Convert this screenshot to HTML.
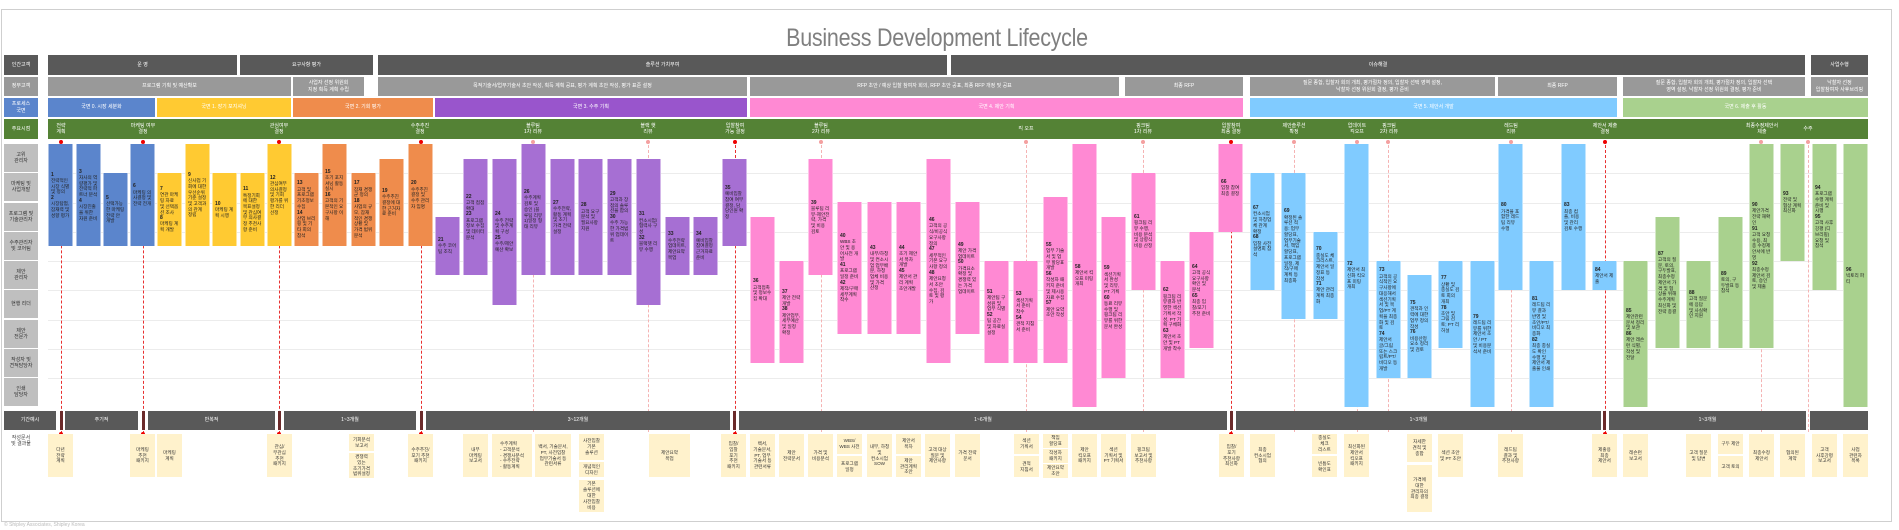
<!DOCTYPE html>
<html><head><meta charset="utf-8">
<style>
*{margin:0;padding:0;box-sizing:border-box}
body{width:1899px;height:530px;background:#fff;position:relative;overflow:hidden;font-family:"Liberation Sans","Noto Sans CJK KR",sans-serif}
div{position:absolute}
.frame{left:1px;top:9px;width:1891px;height:513px;border:1px solid #cfcfcf}
.title{left:700px;top:24px;width:474px;text-align:center;font-size:25px;color:#7f7f7f;transform:scaleX(0.86);letter-spacing:-0.3px}
.lab{left:4px;width:34px;font-size:5px;display:flex;align-items:center;justify-content:center;text-align:center;line-height:1.25}
.ll{background:#bfbfbf;color:#333;height:28px}
.seg{font-size:5px;color:#fff;display:flex;align-items:center;justify-content:center;text-align:center;line-height:1.3}
.dg{background:#595959}.g9{background:#999}
.grid{left:48px;width:1820px;height:1px;background:#ececec}
.ml{width:1px;top:140px;height:292px;border-left:1px dashed #f5b3b3}
.md{width:1px;top:140px;height:294px;border-left:1px dashed #e83030}
.dot{width:4px;height:4px;border-radius:2px;top:140px;background:#f4a0a0}
.dotr{background:#e00}
.b{width:25px;font-size:4.6px;color:#222;padding:3px 2px;line-height:1.25;display:flex;flex-direction:column;justify-content:center;border-left:1px solid rgba(255,255,255,.5);border-right:1px solid rgba(255,255,255,.5)}
.b b{font-size:5px}
.bl{background:#5b85cc}.ye{background:#ffca32}.or{background:#ef8c4c}.pu{background:#a66fd3}.pk{background:#ff89d3}.lb{background:#80cbff}.gr{background:#a9d18e}
.d{background:#fff2cc;font-size:4.6px;color:#333;display:flex;align-items:center;justify-content:center;text-align:center;line-height:1.3;width:25px}
.sep{top:411px;width:3px;height:19px;background:#6b2a2a}
</style></head><body>
<div class="frame"></div>
<div class="title">Business Development Lifecycle</div>

<!-- left labels -->
<div class="lab dg" style="top:55px;height:20px;color:#fff">인간고객</div>
<div class="lab g9" style="top:77px;height:19px;color:#fff">정부고객</div>
<div class="lab" style="top:98px;height:19px;background:#5b85cc;color:#fff">프로세스<br>국면</div>
<div class="lab" style="top:119px;height:20px;background:#548235;color:#fff">주요시점</div>
<div class="lab ll" style="top:144px">고위<br>관리자</div>
<div class="lab ll" style="top:173px">마케팅 및<br>사업개발</div>
<div class="lab ll" style="top:203px">프로그램 및<br>기술관리자</div>
<div class="lab ll" style="top:232px">수주관리자<br>및 코어팀</div>
<div class="lab ll" style="top:261px">제안<br>관리자</div>
<div class="lab ll" style="top:290px">현행 리더</div>
<div class="lab ll" style="top:320px">제안<br>전문가</div>
<div class="lab ll" style="top:349px">작성자 및<br>견적담당자</div>
<div class="lab ll" style="top:378px">인쇄<br>담당자</div>
<div class="lab dg" style="top:411px;height:19px;width:52px;color:#fff">기간예시</div>
<div class="lab" style="top:434px;height:14px;color:#444">작성문서<br>및 결과물</div>

<!-- row 1 -->
<div class="seg dg" style="left:48px;top:55px;width:189px;height:20px">운 영</div>
<div class="seg dg" style="left:240px;top:55px;width:133px;height:20px">요구사항 평가</div>
<div class="seg dg" style="left:378px;top:55px;width:569px;height:20px">솔루션 가치부여</div>
<div class="seg dg" style="left:951px;top:55px;width:854px;height:20px">이슈해결</div>
<div class="seg dg" style="left:1811px;top:55px;width:57px;height:20px">사업수행</div>
<!-- row 2 -->
<div class="seg g9" style="left:48px;top:77px;width:243px;height:19px">프로그램 기획 및 예산확보</div>
<div class="seg g9" style="left:293px;top:77px;width:71px;height:19px">사업자 선정 위원회<br>지정 획득 계획 수립</div>
<div class="seg g9" style="left:378px;top:77px;width:369px;height:19px">목적기술서/업무기술서 초안 작성, 획득 계획 공표, 평가 계획 초안 작성, 평가 표준 설정</div>
<div class="seg g9" style="left:750px;top:77px;width:369px;height:19px">RFP 초안 / 예상 입찰 참여자 회의, RFP 초안 공표, 최종 RFP 개정 및 공표</div>
<div class="seg g9" style="left:1125px;top:77px;width:118px;height:19px">최종 RFP</div>
<div class="seg g9" style="left:1250px;top:77px;width:245px;height:19px">질문 종합, 입찰자 회의 개최, 평가절차 정의, 입찰자 선택 영역 설정,<br>낙찰자 선정 위원회 결정, 평가 준비</div>
<div class="seg g9" style="left:1498px;top:77px;width:119px;height:19px">최종 RFP</div>
<div class="seg g9" style="left:1623px;top:77px;width:182px;height:19px">질문 종합, 입찰자 회의 개최, 평가절차 정의, 입찰자 선택<br>영역 설정, 낙찰자 선정 위원회 결정, 평가 준비</div>
<div class="seg g9" style="left:1811px;top:77px;width:57px;height:19px">낙찰자 선정<br>입찰참여자 사후브리핑</div>
<!-- row 3 -->
<div class="seg bl" style="left:48px;top:98px;width:107px;height:19px">국면 0. 시장 세분화</div>
<div class="seg ye" style="left:157px;top:98px;width:134px;height:19px">국면 1. 장기 포지셔닝</div>
<div class="seg or" style="left:293px;top:98px;width:140px;height:19px">국면 2. 기회 평가</div>
<div class="seg" style="left:435px;top:98px;width:312px;height:19px;background:#9955cc">국면 3. 수주 기획</div>
<div class="seg pk" style="left:750px;top:98px;width:493px;height:19px">국면 4. 제안 기획</div>
<div class="seg lb" style="left:1250px;top:98px;width:367px;height:19px">국면 5. 제안서 개발</div>
<div class="seg gr" style="left:1623px;top:98px;width:245px;height:19px">국면 6. 제출 후 활동</div>
<!-- row 4 -->
<div class="seg" style="left:48px;top:119px;width:1820px;height:20px;background:#548235"></div>
<div class="seg" style="left:46px;top:119px;width:30px;height:20px">전략<br>계획</div>
<div class="seg" style="left:123px;top:119px;width:40px;height:20px">마케팅 여부<br>결정</div>
<div class="seg" style="left:259px;top:119px;width:40px;height:20px">관심여부<br>결정</div>
<div class="seg" style="left:400px;top:119px;width:40px;height:20px">수주추진<br>결정</div>
<div class="seg" style="left:513px;top:119px;width:40px;height:20px">블루팀<br>1차 리뷰</div>
<div class="seg" style="left:628px;top:119px;width:40px;height:20px">블랙 햇<br>리뷰</div>
<div class="seg" style="left:715px;top:119px;width:40px;height:20px">입찰참여<br>가능 결정</div>
<div class="seg" style="left:801px;top:119px;width:40px;height:20px">블루팀<br>2차 리뷰</div>
<div class="seg" style="left:1006px;top:119px;width:40px;height:20px">킥 오프</div>
<div class="seg" style="left:1123px;top:119px;width:40px;height:20px">핑크팀<br>1차 리뷰</div>
<div class="seg" style="left:1211px;top:119px;width:40px;height:20px">입찰참여<br>최종 결정</div>
<div class="seg" style="left:1274px;top:119px;width:40px;height:20px">제안솔루션<br>확정</div>
<div class="seg" style="left:1340px;top:119px;width:34px;height:20px">업데이트<br>킥오프</div>
<div class="seg" style="left:1374px;top:119px;width:30px;height:20px">핑크팀<br>2차 리뷰</div>
<div class="seg" style="left:1491px;top:119px;width:40px;height:20px">레드팀<br>리뷰</div>
<div class="seg" style="left:1580px;top:119px;width:50px;height:20px">제안서 제출<br>결정</div>
<div class="seg" style="left:1732px;top:119px;width:60px;height:20px">최종수정제안서<br>제출</div>
<div class="seg" style="left:1793px;top:119px;width:30px;height:20px">수주</div>

<!-- grid -->
<div class="grid" style="top:173px"></div><div class="grid" style="top:203px"></div><div class="grid" style="top:232px"></div><div class="grid" style="top:261px"></div><div class="grid" style="top:290px"></div><div class="grid" style="top:320px"></div><div class="grid" style="top:349px"></div><div class="grid" style="top:378px"></div>

<!-- milestone lines -->
<div class="md" style="left:61px"></div><div class="md" style="left:143px"></div><div class="md" style="left:279px"></div><div class="md" style="left:421px"></div><div class="md" style="left:735px"></div><div class="md" style="left:1231px"></div><div class="md" style="left:1605px"></div>
<div class="ml" style="left:533px"></div><div class="ml" style="left:648px"></div><div class="ml" style="left:821px"></div><div class="ml" style="left:1026px"></div><div class="ml" style="left:1143px"></div><div class="ml" style="left:1294px"></div><div class="ml" style="left:1357px"></div><div class="ml" style="left:1388px"></div><div class="ml" style="left:1511px"></div><div class="ml" style="left:1761px"></div><div class="ml" style="left:1808px"></div>
<div class="dot dotr" style="left:59px"></div><div class="dot dotr" style="left:141px"></div><div class="dot dotr" style="left:277px"></div><div class="dot dotr" style="left:419px"></div><div class="dot dotr" style="left:733px"></div><div class="dot dotr" style="left:1229px"></div><div class="dot dotr" style="left:1603px"></div>
<div class="dot" style="left:531px"></div><div class="dot" style="left:646px"></div><div class="dot" style="left:819px"></div><div class="dot" style="left:1024px"></div><div class="dot" style="left:1141px"></div><div class="dot" style="left:1292px"></div><div class="dot" style="left:1355px"></div><div class="dot" style="left:1386px"></div><div class="dot" style="left:1509px"></div><div class="dot" style="left:1759px"></div><div class="dot" style="left:1806px"></div>

<!-- bars -->
<div class="b bl" style="left:48px;top:144px;height:102px"><b>1</b>전략적인 시장 식별 및 정의<br><b>2</b>시장탐험, 잠재력 및 성향 평가</div>
<div class="b bl" style="left:76px;top:144px;height:102px"><b>3</b>자사의 역량평가 및 전략적 파트너 분석<br><b>4</b>시장진출을 위한 자원 준비</div>
<div class="b bl" style="left:103px;top:173px;height:73px"><b>5</b>선택가능한 마케팅 전략 안 개발</div>
<div class="b bl" style="left:130px;top:144px;height:102px"><b>6</b>마케팅 의사결정 및 전략 전개</div>
<div class="b ye" style="left:157px;top:173px;height:73px"><b>7</b>연관 마케팅 자료 및 선택옵션 조사<br><b>8</b>마케팅 계획 개발</div>
<div class="b ye" style="left:185px;top:144px;height:102px"><b>9</b>신사업 기회에 대한 우선순위 기준 설정 및 고객과의 관계 정립</div>
<div class="b ye" style="left:212px;top:173px;height:73px"><b>10</b>마케팅 계획 시행</div>
<div class="b ye" style="left:240px;top:173px;height:73px"><b>11</b>특정기회에 대한 목표설정 및 관심여부 의사결정 추천사항 준비</div>
<div class="b ye" style="left:267px;top:144px;height:102px"><b>12</b>관심여부 의사결정 및 기회 평가를 위한 리더 선정</div>
<div class="b or" style="left:294px;top:173px;height:73px"><b>13</b>고객 및 프로그램 기초정보 수집<br><b>14</b>산업 브리핑 및 기타 회의 참석</div>
<div class="b or" style="left:322px;top:144px;height:102px"><b>15</b>초기 포지셔닝 활동 실시<br><b>16</b>고객의 기본적인 요구사항 이해</div>
<div class="b or" style="left:351px;top:173px;height:73px"><b>17</b>잠재 경쟁군 정의<br><b>18</b>사업의 규모, 잠재적인 경쟁상황 및 가격 범위 분석</div>
<div class="b or" style="left:379px;top:159px;height:87px"><b>19</b>수주추진 결정에 대한 근거자료 준비</div>
<div class="b or" style="left:408px;top:144px;height:102px"><b>20</b>수주추진 결정 및 수주 관리자 임명</div>
<div class="b pu" style="left:435px;top:217px;height:58px"><b>21</b>수주 코어팀 조직</div>
<div class="b pu" style="left:463px;top:159px;height:116px"><b>22</b>고객 접점 확대<br><b>23</b>프로그램 정보 수집 및 데이터 분석</div>
<div class="b pu" style="left:492px;top:159px;height:146px"><b>24</b>수주 전략 및 수주계획 구성<br><b>25</b>수주/제안 예산 확보</div>
<div class="b pu" style="left:521px;top:144px;height:131px"><b>26</b>수주계획 검토 및 승인 (블루팀 리뷰1)일정 형태 리뷰</div>
<div class="b pu" style="left:550px;top:159px;height:116px"><b>27</b>수주전략, 활동 계획 및 초기 가격 전략 설정</div>
<div class="b pu" style="left:578px;top:159px;height:116px"><b>28</b>고객 요구 분석 및 필요사항 지원</div>
<div class="b pu" style="left:607px;top:159px;height:116px"><b>29</b>고객과 장점의 솔루션을 합의<br><b>30</b>수주 가능한 가격범위 업데이트</div>
<div class="b pu" style="left:636px;top:159px;height:146px"><b>31</b>컨소시엄/협력사 구성<br><b>32</b>블랙햇 리뷰 수행</div>
<div class="b pu" style="left:665px;top:217px;height:58px"><b>33</b>수주전략 업데이트, 제안요약 목업</div>
<div class="b pu" style="left:693px;top:217px;height:58px"><b>34</b>예비입찰 참여결정 근거자료 준비</div>
<div class="b pu" style="left:722px;top:159px;height:87px"><b>35</b>예비입찰참여 여부 결정, 담당인원 확정</div>
<div class="b pk" style="left:750px;top:217px;height:146px"><b>36</b>고객접촉 및 정보수집 확대</div>
<div class="b pk" style="left:779px;top:261px;height:102px"><b>37</b>제안 전략 개발<br><b>38</b>제안업무, 세부예산 및 일정 확정</div>
<div class="b pk" style="left:808px;top:159px;height:116px"><b>39</b>블루팀 리뷰-제안전략, 가격 및 비용 검토</div>
<div class="b pk" style="left:837px;top:202px;height:132px"><b>40</b>WBS 초안 및 용어사전 개발<br><b>41</b>프로그램 일정 준비<br><b>42</b>제작/구매 세부계획 착수</div>
<div class="b pk" style="left:867px;top:202px;height:132px"><b>43</b>내부/하청 및 컨소시엄 업무배분, 하청업체 비용 및 가격 산정</div>
<div class="b pk" style="left:896px;top:202px;height:132px"><b>44</b>초기 제안서 목차 개발<br><b>45</b>제안서 관리 계획 초안개발</div>
<div class="b pk" style="left:926px;top:159px;height:204px"><b>46</b>고객의 공식/비공식 요구사항 정의<br><b>47</b>세부적인 기본 요구사항 정의<br><b>48</b>제안요청서 초안 수집, 검토 및 평가</div>
<div class="b pk" style="left:955px;top:202px;height:132px"><b>49</b>제안 가격 업데이트<br><b>50</b>가격요소 확정 및 경쟁력 있는 가격 업데이트</div>
<div class="b pk" style="left:984px;top:261px;height:102px"><b>51</b>제안팀 구성원 및 업무 식별<br><b>52</b>팀 공간 및 자료실 설정</div>
<div class="b pk" style="left:1013px;top:261px;height:102px"><b>53</b>섹션기획서 준비 착수<br><b>54</b>견적 지침서 준비</div>
<div class="b pk" style="left:1043px;top:197px;height:166px"><b>55</b>업무 기술서 및 업무 할당표 개발<br><b>56</b>작성자 패키지 준비 및 제시용 자료 수집<br><b>57</b>제안 요약 초안 작성</div>
<div class="b pk" style="left:1072px;top:144px;height:263px"><b>58</b>제안서 킥오프 미팅 개최</div>
<div class="b pk" style="left:1101px;top:217px;height:161px"><b>59</b>섹션기획서 완성 및 리뷰, PT 기획<br><b>60</b>동료 리뷰 수행 및 핑크팀 리뷰를 위한 문서 완성</div>
<div class="b pk" style="left:1131px;top:173px;height:117px"><b>61</b>핑크팀 리뷰 수행, 비용 분석 및 상향식 비용 산정</div>
<div class="b pk" style="left:1160px;top:261px;height:117px"><b>62</b>핑크팀 리뷰결과 반영한 섹션 기획서 작성, PT 기획 구체화<br><b>63</b>제안서 초안 및 PT 개발 착수</div>
<div class="b pk" style="left:1189px;top:232px;height:116px"><b>64</b>고객 공식 요구사항 확인 및 분석<br><b>65</b>최종 입찰/포기 추천 준비</div>
<div class="b pk" style="left:1218px;top:144px;height:88px"><b>66</b>입찰 참여 최종 결정</div>
<div class="b lb" style="left:1250px;top:173px;height:117px"><b>67</b>컨소시엄 및 하청업체 관계 확정<br><b>68</b>입찰 사전 설명회 참석</div>
<div class="b lb" style="left:1281px;top:173px;height:146px"><b>69</b>확정된 솔루션 적용: 업무할당표, 업무기술서, 책임할당표, 프로그램 일정, 제작/구매 계획 등 최종화</div>
<div class="b lb" style="left:1313px;top:232px;height:87px"><b>70</b>충실도 체크리스트, 제안서 일정표 등 작성<br><b>71</b>제안 관리계획 최종화</div>
<div class="b lb" style="left:1344px;top:144px;height:263px"><b>72</b>제안서 최신화 킥오프 미팅 개최</div>
<div class="b lb" style="left:1376px;top:261px;height:117px"><b>73</b>고객의 공식적인 요구사항에 대응해서 섹션기획서 및 목업/PT 계획을 최종화 및 검토<br><b>74</b>제안서 글/그림 또는 스크립트/PT/비디오 등 개발</div>
<div class="b lb" style="left:1407px;top:275px;height:103px"><b>75</b>견적과 인력에 대한 업무 정의 작성<br><b>76</b>비용산정 요소 정리 및 검토</div>
<div class="b lb" style="left:1438px;top:261px;height:87px"><b>77</b>상황 및 충실도 검토 회의 개최<br><b>78</b>초안 및 그림 검토; PT 리허설</div>
<div class="b lb" style="left:1470px;top:261px;height:146px"><b>79</b>레드팀 리뷰를 위한 제안서 초안 / PT 및 비용분석서 준비</div>
<div class="b lb" style="left:1498px;top:144px;height:146px"><b>80</b>가격을 포함한 레드팀 리뷰 수행</div>
<div class="b lb" style="left:1529px;top:261px;height:146px"><b>81</b>레드팀 리뷰 결과 반영 및 초안/PT/비디오 최종화<br><b>82</b>최종 충실도 확인 수행 및 제안서 제출물 인쇄</div>
<div class="b lb" style="left:1561px;top:144px;height:146px"><b>83</b>최종 컴플, 비용 및 관리 검토 수행</div>
<div class="b lb" style="left:1592px;top:261px;height:29px"><b>84</b>제안서 제출</div>
<div class="b gr" style="left:1623px;top:261px;height:146px"><b>85</b>제안관련 문서 정리 및 보관<br><b>86</b>제안 레슨런 식별, 작성 및 전달</div>
<div class="b gr" style="left:1655px;top:217px;height:131px"><b>87</b>고객의 질문, 토의, 구두발표, 최종수정제안서 가격 및 협상을 위해 수주계획 최신화 및 전략 종결</div>
<div class="b gr" style="left:1686px;top:261px;height:87px"><b>88</b>고객 질문에 응답 및 사실확인 지원</div>
<div class="b gr" style="left:1718px;top:217px;height:131px"><b>89</b>토의, 구두발표 등 참석</div>
<div class="b gr" style="left:1749px;top:144px;height:204px"><b>90</b>제안가격 전략 재확인<br><b>91</b>고객 요청 수용, 최종 수정제안서에 반영<br><b>92</b>최종수정제안서 검토, 승인 및 제출</div>
<div class="b gr" style="left:1780px;top:144px;height:117px"><b>93</b>전략 및 협상 계획 최신화</div>
<div class="b gr" style="left:1812px;top:144px;height:146px"><b>94</b>프로그램 수행 계획 준비 및 시행<br><b>95</b>고객 사후강평 (디브리핑) 요청 및 참석</div>
<div class="b gr" style="left:1843px;top:144px;height:263px"><b>96</b>빅토리 파티</div>

<!-- duration row -->
<div class="seg dg" style="left:65px;top:411px;width:73px;height:19px">주기적</div>
<div class="seg dg" style="left:148px;top:411px;width:127px;height:19px">반복적</div>
<div class="seg dg" style="left:284px;top:411px;width:132px;height:19px">1~3개월</div>
<div class="seg dg" style="left:426px;top:411px;width:304px;height:19px">3~12개월</div>
<div class="seg dg" style="left:739px;top:411px;width:488px;height:19px">1~6개월</div>
<div class="seg dg" style="left:1236px;top:411px;width:365px;height:19px">1~3개월</div>
<div class="seg dg" style="left:1609px;top:411px;width:197px;height:19px">1~3개월</div>
<div class="seg dg" style="left:1810px;top:411px;width:58px;height:19px"></div>
<div class="sep" style="left:60px"></div><div class="sep" style="left:142px"></div><div class="sep" style="left:278px"></div><div class="sep" style="left:420px"></div><div class="sep" style="left:733px"></div><div class="sep" style="left:1230px"></div><div class="sep" style="left:1603px"></div>
<div class="dot dotr" style="left:59px;top:432px"></div><div class="dot dotr" style="left:141px;top:432px"></div><div class="dot dotr" style="left:277px;top:432px"></div><div class="dot dotr" style="left:419px;top:432px"></div><div class="dot dotr" style="left:733px;top:432px"></div><div class="dot dotr" style="left:1229px;top:432px"></div><div class="dot dotr" style="left:1603px;top:432px"></div>

<!-- documents -->
<div class="d" style="left:48px;top:434px;height:43px">다년<br>전략<br>계획</div>
<div class="d" style="left:130px;top:434px;height:43px">마케팅<br>추천<br>패키지</div>
<div class="d" style="left:157px;top:434px;height:43px">마케팅<br>계획</div>
<div class="d" style="left:267px;top:434px;height:43px">관심/<br>무관심<br>추천<br>패키지</div>
<div class="d" style="left:349px;top:434px;height:17px">기회분석<br>보고서</div>
<div class="d" style="left:349px;top:453px;height:25px">경쟁력<br>있는<br>초기가격<br>범위설정</div>
<div class="d" style="left:408px;top:434px;height:43px">수주추진/<br>포기 추천<br>패키지</div>
<div class="d" style="left:463px;top:434px;height:43px">내부<br>마케팅<br>보고서</div>
<div class="d" style="left:492px;top:434px;height:43px;width:40px;text-align:left">수주계획<br>- 고객분석<br>- 경쟁사분석<br>- 수주전략<br>- 활동계획</div>
<div class="d" style="left:535px;top:434px;height:43px;width:36px">백서, 기술문서,<br>PT, 사전입찰<br>업무기술서 등<br>관련서류</div>
<div class="d" style="left:579px;top:434px;height:26px">사전입찰<br>기본<br>솔루션</div>
<div class="d" style="left:579px;top:462px;height:15px">개념적인<br>디자인</div>
<div class="d" style="left:579px;top:480px;height:32px">기본<br>솔루션에<br>대한<br>사전입찰<br>비용</div>
<div class="d" style="left:649px;top:434px;height:43px;width:41px">제안요약<br>목업</div>
<div class="d" style="left:721px;top:434px;height:43px">입찰/<br>입찰<br>포기<br>추천<br>패키지</div>
<div class="d" style="left:750px;top:434px;height:43px">백서,<br>기술문서,<br>PT, 업무<br>기술서 등<br>관련서류</div>
<div class="d" style="left:779px;top:434px;height:43px">제안<br>전략문서</div>
<div class="d" style="left:808px;top:434px;height:43px">가격 및<br>비용분석</div>
<div class="d" style="left:837px;top:434px;height:20px">WBS/<br>WBS 사전</div>
<div class="d" style="left:837px;top:456px;height:21px">프로그램<br>일정</div>
<div class="d" style="left:867px;top:434px;height:43px">내부, 하청<br>및<br>컨소시엄<br>SOW</div>
<div class="d" style="left:896px;top:434px;height:20px">제안서<br>목차</div>
<div class="d" style="left:896px;top:456px;height:21px">제안<br>관리계획<br>초안</div>
<div class="d" style="left:925px;top:434px;height:43px">고객 대상<br>질문 및<br>제안사항</div>
<div class="d" style="left:955px;top:434px;height:43px">가격 전략<br>문서</div>
<div class="d" style="left:1014px;top:434px;height:20px">섹션<br>기획서</div>
<div class="d" style="left:1014px;top:456px;height:21px">견적<br>지침서</div>
<div class="d" style="left:1043px;top:434px;height:14px">책임<br>할당표</div>
<div class="d" style="left:1043px;top:449px;height:14px">작성자<br>패키지</div>
<div class="d" style="left:1043px;top:464px;height:14px">제안요약<br>초안</div>
<div class="d" style="left:1072px;top:434px;height:43px">제안<br>킥오프<br>패키지</div>
<div class="d" style="left:1101px;top:434px;height:43px">섹션<br>기획서 및<br>PT 기획서</div>
<div class="d" style="left:1131px;top:434px;height:43px">핑크팀<br>보고서 및<br>추천사항</div>
<div class="d" style="left:1219px;top:434px;height:43px">입찰/<br>포기<br>추천사항<br>최신화</div>
<div class="d" style="left:1250px;top:434px;height:43px">최종<br>컨소시엄<br>협의</div>
<div class="d" style="left:1312px;top:434px;height:20px">충실도<br>체크<br>리스트</div>
<div class="d" style="left:1312px;top:456px;height:21px">빈틈도<br>확인표</div>
<div class="d" style="left:1344px;top:434px;height:43px">최신화된<br>제안서<br>킥오프<br>패키지</div>
<div class="d" style="left:1407px;top:434px;height:28px">자세한<br>견적 및<br>종합</div>
<div class="d" style="left:1407px;top:465px;height:47px">가격에<br>대한<br>관리자의<br>최종 결정</div>
<div class="d" style="left:1438px;top:434px;height:43px">섹션 초안<br>및 PT 초안</div>
<div class="d" style="left:1498px;top:434px;height:43px">레드팀<br>결과 및<br>추천사항</div>
<div class="d" style="left:1592px;top:434px;height:43px">제출용<br>최종<br>제안서</div>
<div class="d" style="left:1623px;top:434px;height:43px">레슨런<br>보고서</div>
<div class="d" style="left:1686px;top:434px;height:43px">고객 질문<br>및 답변</div>
<div class="d" style="left:1718px;top:434px;height:20px">구두 제안</div>
<div class="d" style="left:1718px;top:456px;height:21px">고객 토의</div>
<div class="d" style="left:1749px;top:434px;height:43px">최종수정<br>제안서</div>
<div class="d" style="left:1780px;top:434px;height:43px">협의된<br>계약</div>
<div class="d" style="left:1812px;top:434px;height:43px">고객<br>사후강평<br>보고서</div>
<div class="d" style="left:1843px;top:434px;height:43px">사업<br>관련자<br>목록</div>

<div style="left:4px;top:522px;font-size:5px;color:#bbb">© Shipley Associates, Shipley Korea</div>
</body></html>
